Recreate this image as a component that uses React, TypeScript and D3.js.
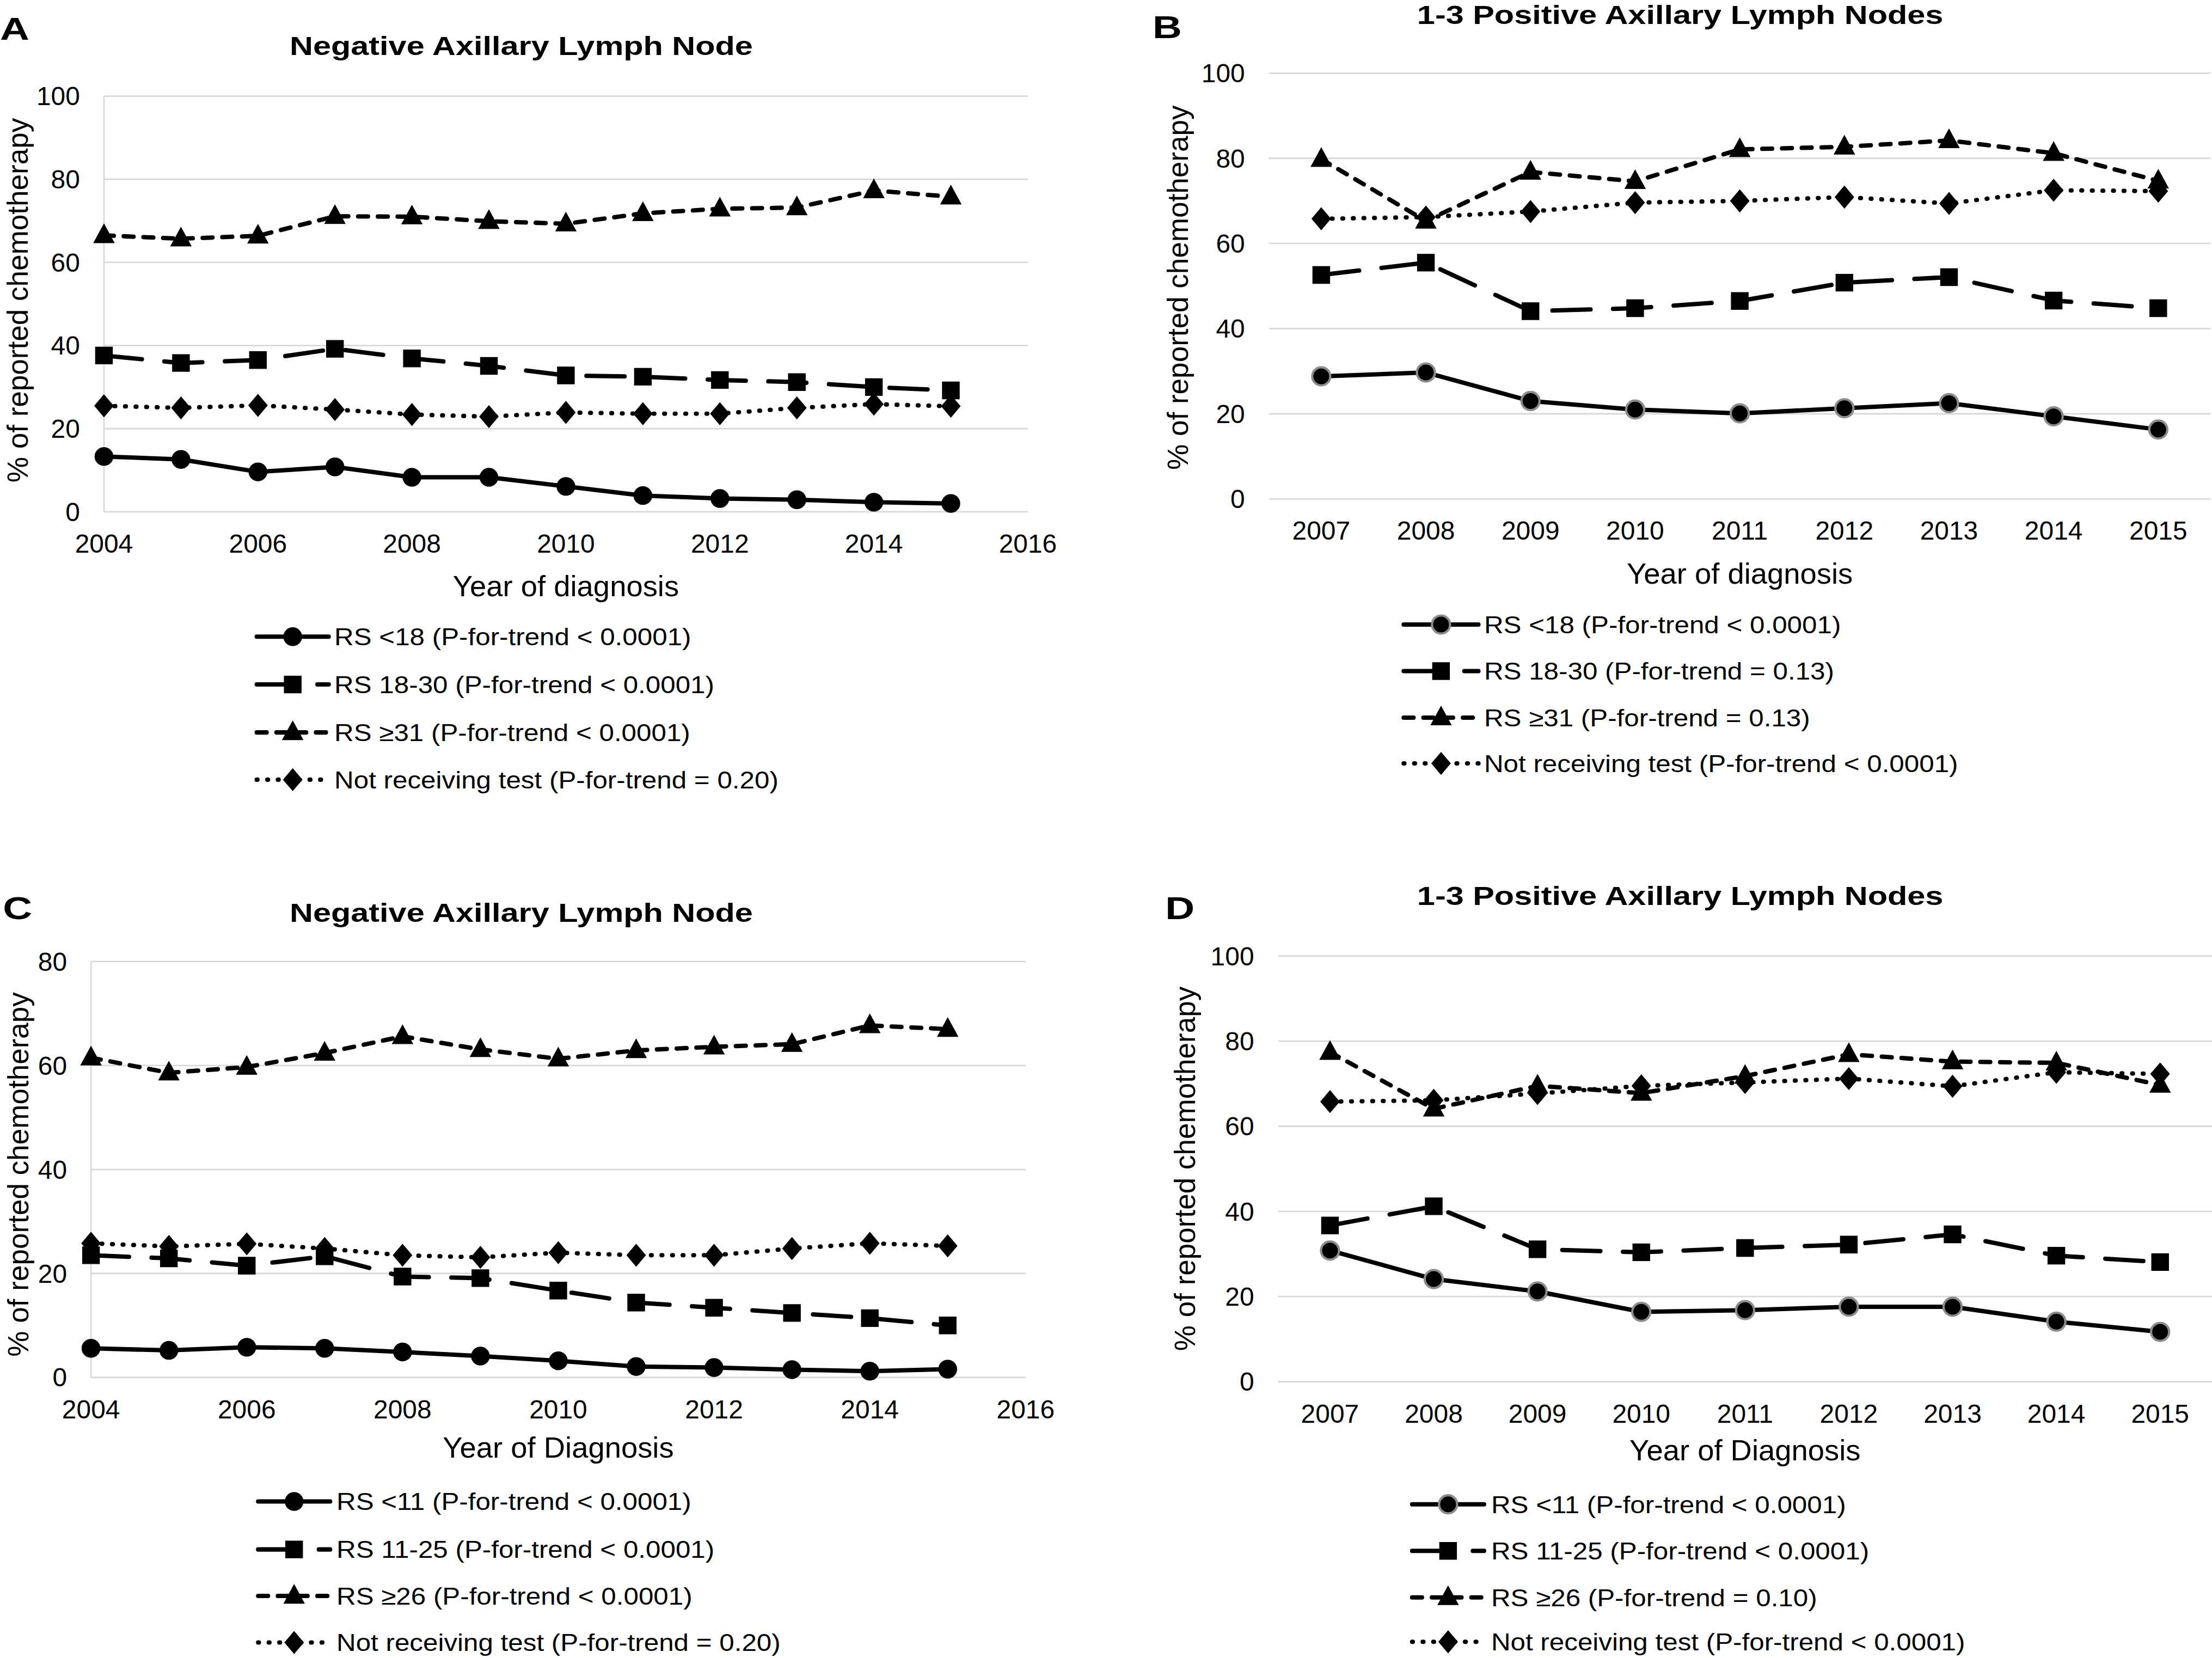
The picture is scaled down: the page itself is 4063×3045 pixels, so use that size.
import React from "react";
import * as d3 from "d3";

// ---------- data ----------
const yearsAC = [2004, 2005, 2006, 2007, 2008, 2009, 2010, 2011, 2012, 2013, 2014, 2015];
const yearsBD = [2007, 2008, 2009, 2010, 2011, 2012, 2013, 2014, 2015];
const xTicksAC = [2004, 2006, 2008, 2010, 2012, 2014, 2016];
const yTicks100 = [0, 20, 40, 60, 80, 100];
const yTicks80 = [0, 20, 40, 60, 80];

// Panel A
const aLow = [13.3, 12.6, 9.6, 10.8, 8.3, 8.3, 6.1, 3.9, 3.2, 2.9, 2.3, 2.0];
const aMid = [37.6, 35.8, 36.5, 39.2, 36.9, 35.1, 32.8, 32.5, 31.7, 31.2, 30.0, 29.2];
const aHigh = [66.5, 65.7, 66.4, 71.1, 71.0, 69.9, 69.3, 71.8, 72.9, 73.2, 77.3, 75.8];
const aNone = [25.5, 25.0, 25.6, 24.6, 23.4, 22.9, 23.9, 23.6, 23.6, 25.0, 25.9, 25.4];
const aLabels = [
  "RS <18 (P-for-trend < 0.0001)",
  "RS 18-30 (P-for-trend < 0.0001)",
  "RS \u226531 (P-for-trend < 0.0001)",
  "Not receiving test (P-for-trend = 0.20)",
];

// Panel B
const bLow = [28.8, 29.7, 23.0, 21.0, 20.1, 21.3, 22.5, 19.4, 16.3];
const bMid = [52.6, 55.5, 44.1, 44.8, 46.5, 50.8, 52.1, 46.6, 44.8];
const bHigh = [79.8, 65.3, 76.8, 74.6, 82.1, 82.7, 84.2, 81.2, 74.7];
const bNone = [65.8, 66.2, 67.5, 69.6, 70.0, 70.9, 69.4, 72.5, 72.3];
const bLabels = [
  "RS <18 (P-for-trend < 0.0001)",
  "RS 18-30 (P-for-trend = 0.13)",
  "RS \u226531 (P-for-trend = 0.13)",
  "Not receiving test (P-for-trend < 0.0001)",
];

// Panel C
const cLow = [5.6, 5.2, 5.8, 5.6, 4.9, 4.1, 3.2, 2.1, 1.9, 1.5, 1.2, 1.6];
const cMid = [23.5, 22.9, 21.5, 23.3, 19.4, 19.1, 16.7, 14.4, 13.4, 12.4, 11.4, 10.0];
const cHigh = [61.5, 58.6, 59.7, 62.4, 65.6, 63.1, 61.3, 62.9, 63.6, 64.1, 67.7, 67.0];
const cNone = [25.8, 25.2, 25.7, 24.8, 23.5, 23.1, 24.0, 23.5, 23.5, 24.8, 25.8, 25.3];
const cLabels = [
  "RS <11 (P-for-trend < 0.0001)",
  "RS 11-25 (P-for-trend < 0.0001)",
  "RS \u226526 (P-for-trend < 0.0001)",
  "Not receiving test (P-for-trend = 0.20)",
];

// Panel D
const dLow = [30.8, 24.1, 21.2, 16.4, 16.8, 17.6, 17.6, 14.1, 11.7];
const dMid = [36.7, 41.2, 31.1, 30.4, 31.4, 32.2, 34.6, 29.6, 28.1];
const dHigh = [77.4, 64.1, 69.5, 67.8, 71.8, 76.9, 75.2, 74.9, 69.7];
const dNone = [65.8, 66.1, 67.7, 69.5, 70.3, 71.2, 69.4, 72.7, 72.3];
const dLabels = [
  "RS <11 (P-for-trend < 0.0001)",
  "RS 11-25 (P-for-trend < 0.0001)",
  "RS \u226526 (P-for-trend = 0.10)",
  "Not receiving test (P-for-trend < 0.0001)",
];

// ---------- styles ----------
const FONT = "'Liberation Sans', Arial, 'DejaVu Sans', sans-serif";
const GRID = "#d9d9d9";
const LW = 3.1;
const DASHES = ["", "27,16", "7,7", "0.5,7"];
const SHAPES = ["circle", "square", "triangle", "diamond"];

function markerPath(shape: string): string {
  if (shape === "square") return "M-6,-6H6V6H-6Z";
  if (shape === "triangle") return "M0,-8L7.2,5.2L-7.2,5.2Z";
  if (shape === "diamond") return "M0,-7.8L6.6,0L0,7.8L-6.6,0Z";
  const r = 6.4;
  return `M${-r},0A${r},${r} 0 1,0 ${r},0A${r},${r} 0 1,0 ${-r},0Z`;
}

type PanelCfg = {
  letter: string;
  letterX: number;
  letterY: number;
  title: string;
  titleX: number;
  titleY: number;
  kind: "linear" | "point";
  years: number[];
  xTicks: number[];
  xRange: [number, number];
  yMax: number;
  yTicks: number[];
  yRange: [number, number];
  yTitleX: number;
  yTitleY: number;
  xTitle: string;
  xTitleY: number;
  series: number[][];
  labels: string[];
  legX: [number, number];
  legTextX: number;
  legRows: number[];
  circleOutline: boolean;
  leftAxis: boolean;
};

const panels: PanelCfg[] = [
  {
    letter: "A", letterX: 0, letterY: 28, title: "Negative Axillary Lymph Node", titleX: 369.5, titleY: 39,
    kind: "linear", years: yearsAC, xTicks: xTicksAC, xRange: [73.7, 728.6], yMax: 100, yTicks: yTicks100,
    yRange: [363, 68.2], yTitleX: 19.5, yTitleY: 213, xTitle: "Year of diagnosis", xTitleY: 423,
    series: [aLow, aMid, aHigh, aNone], labels: aLabels, legX: [182, 233], legTextX: 237,
    legRows: [451.6, 485.5, 519.5, 553], circleOutline: false, leftAxis: true,
  },
  {
    letter: "B", letterX: 817, letterY: 27, title: "1-3 Positive Axillary Lymph Nodes", titleX: 1191, titleY: 17,
    kind: "point", years: yearsBD, xTicks: yearsBD, xRange: [899.5, 1567], yMax: 100, yTicks: yTicks100,
    yRange: [353.9, 51.9], yTitleX: 842, yTitleY: 204, xTitle: "Year of diagnosis", xTitleY: 414,
    series: [bLow, bMid, bHigh, bNone], labels: bLabels, legX: [995, 1048], legTextX: 1052,
    legRows: [443, 476, 509, 541.5], circleOutline: true, leftAxis: false,
  },
  {
    letter: "C", letterX: 2, letterY: 652, title: "Negative Axillary Lymph Node", titleX: 369.5, titleY: 654,
    kind: "linear", years: yearsAC, xTicks: xTicksAC, xRange: [64.5, 727], yMax: 80, yTicks: yTicks80,
    yRange: [977, 682], yTitleX: 20, yTitleY: 833, xTitle: "Year of Diagnosis", xTitleY: 1034,
    series: [cLow, cMid, cHigh, cNone], labels: cLabels, legX: [183, 234], legTextX: 238.5,
    legRows: [1065, 1099, 1132, 1165], circleOutline: false, leftAxis: true,
  },
  {
    letter: "D", letterX: 826, letterY: 652, title: "1-3 Positive Axillary Lymph Nodes", titleX: 1191, titleY: 642,
    kind: "point", years: yearsBD, xTicks: yearsBD, xRange: [906, 1568], yMax: 100, yTicks: yTicks100,
    yRange: [980, 678.1], yTitleX: 847, yTitleY: 829, xTitle: "Year of Diagnosis", xTitleY: 1036,
    series: [dLow, dMid, dHigh, dNone], labels: dLabels, legX: [1001, 1052], legTextX: 1057,
    legRows: [1067, 1100, 1133, 1164.5], circleOutline: true, leftAxis: false,
  },
];

function Panel({ p }: { p: PanelCfg }) {
  const y = d3.scaleLinear().domain([0, p.yMax]).range(p.yRange);
  let xPos: (v: number) => number;
  if (p.kind === "linear") {
    const xl = d3.scaleLinear().domain([2004, 2016]).range(p.xRange);
    xPos = (v) => xl(v);
  } else {
    const xp = d3.scalePoint<string>().domain(p.years.map(String)).range(p.xRange).padding(0.5);
    xPos = (v) => xp(String(v)) as number;
  }
  const [x0, x1] = p.xRange;
  const plotCx = (x0 + x1) / 2;
  const yBase = p.yRange[0];

  const lineGen = (vals: number[]) =>
    d3
      .line<number>()
      .x((_, i) => xPos(p.years[i]))
      .y((d) => y(d))(vals) as string;

  const markerStroke = (si: number) =>
    si === 0 && p.circleOutline ? "#8c8c8c" : "#000";
  const markerStrokeW = (si: number) => (si === 0 && p.circleOutline ? 1.6 : 0.5);

  return (
    <g>
      <text
        transform={`translate(${p.letterX},${p.letterY}) scale(1.28,1)`}
        fontFamily={FONT}
        fontWeight="bold"
        fontSize={22.5}
        fill="#000"
      >
        {p.letter}
      </text>
      <text
        transform={`translate(${p.titleX},${p.titleY}) scale(1.24,1)`}
        textAnchor="middle"
        fontFamily={FONT}
        fontWeight="bold"
        fontSize={18.5}
        fill="#000"
      >
        {p.title}
      </text>

      {p.yTicks.map((t) => (
        <line key={"g" + t} x1={x0} x2={x1} y1={y(t)} y2={y(t)} stroke={GRID} strokeWidth={1.1} />
      ))}
      {p.leftAxis && (
        <line x1={x0} x2={x0} y1={y(p.yMax)} y2={yBase} stroke={GRID} strokeWidth={1.1} />
      )}

      {p.yTicks.map((t) => (
        <text
          key={"yl" + t}
          x={x0 - 17}
          y={y(t)}
          dy="0.35em"
          textAnchor="end"
          fontFamily={FONT}
          fontSize={18.5}
          fill="#000"
        >
          {t}
        </text>
      ))}
      {p.xTicks.map((t) => (
        <text
          key={"xl" + t}
          x={xPos(t)}
          y={yBase + 29}
          textAnchor="middle"
          fontFamily={FONT}
          fontSize={18.5}
          fill="#000"
        >
          {t}
        </text>
      ))}

      <text
        x={plotCx}
        y={p.xTitleY}
        textAnchor="middle"
        fontFamily={FONT}
        fontSize={21}
        fill="#000"
      >
        {p.xTitle}
      </text>
      <text
        transform={`translate(${p.yTitleX},${p.yTitleY}) rotate(-90)`}
        textAnchor="middle"
        fontFamily={FONT}
        fontSize={20.5}
        fill="#000"
      >
        % of reported chemotherapy
      </text>

      {p.series.map((vals, si) => (
        <path
          key={"l" + si}
          d={lineGen(vals)}
          fill="none"
          stroke="#000"
          strokeWidth={LW}
          strokeDasharray={DASHES[si] || undefined}
          strokeLinecap={si === 0 ? "butt" : "round"}
          strokeLinejoin="round"
        />
      ))}
      {p.series.map((vals, si) => (
        <g key={"m" + si}>
          {vals.map((v, i) => (
            <path
              key={i}
              d={markerPath(SHAPES[si])}
              transform={`translate(${xPos(p.years[i])},${y(v)})`}
              fill="#000"
              stroke={markerStroke(si)}
              strokeWidth={markerStrokeW(si)}
            />
          ))}
        </g>
      ))}

      {p.labels.map((lab, si) => {
        const ly = p.legRows[si];
        const [lx0, lx1] = p.legX;
        return (
          <g key={"lg" + si}>
            <line
              x1={lx0}
              x2={lx1}
              y1={ly}
              y2={ly}
              stroke="#000"
              strokeWidth={LW}
              strokeDasharray={DASHES[si] || undefined}
              strokeLinecap="round"
            />
            <path
              d={markerPath(SHAPES[si])}
              transform={`translate(${(lx0 + lx1) / 2},${ly})`}
              fill="#000"
              stroke={markerStroke(si)}
              strokeWidth={markerStrokeW(si)}
            />
            <text
              transform={`translate(${p.legTextX},${ly}) scale(1.12,1)`}
              dy="0.36em"
              fontFamily={FONT}
              fontSize={17}
              fill="#000"
            >
              {lab}
            </text>
          </g>
        );
      })}
    </g>
  );
}

export default function App() {
  return (
    <svg
      width={4063}
      height={3045}
      viewBox="0 0 1568 1176"
      preserveAspectRatio="none"
      style={{ position: "absolute", left: 0, top: 0, background: "#fff" }}
    >
      <rect x={0} y={0} width={1568} height={1176} fill="#fff" />
      {panels.map((p) => (
        <Panel key={p.letter} p={p} />
      ))}
    </svg>
  );
}
